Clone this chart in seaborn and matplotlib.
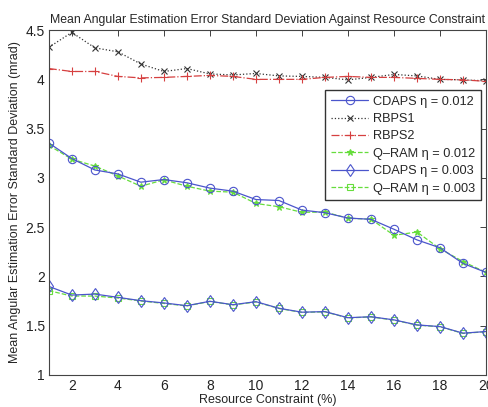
import matplotlib
matplotlib.use('Agg')
import matplotlib.pyplot as plt
import pandas as pd
import seaborn as sns

# resource constraint (%)
constraint = list(range(1, 21))

rbps1 = [4.325, 4.477, 4.32, 4.28, 4.156, 4.08, 4.11, 4.055, 4.045, 4.06,
         4.035, 4.03, 4.02, 3.995, 4.02, 4.05, 4.035, 4.0, 3.995, 3.985]
rbps2 = [4.11, 4.08, 4.08, 4.03, 4.015, 4.02, 4.03, 4.04, 4.03, 4.0,
         4.0, 4.0, 4.02, 4.03, 4.02, 4.02, 4.01, 4.0, 3.995, 3.98]
cdaps_012 = [3.354, 3.196, 3.08, 3.04, 2.956, 2.983, 2.95, 2.896, 2.865, 2.78,
             2.77, 2.673, 2.646, 2.592, 2.579, 2.478, 2.37, 2.29, 2.131, 2.04]
qram_012 = [3.33, 3.19, 3.12, 3.02, 2.915, 2.98, 2.915, 2.865, 2.855, 2.74,
            2.707, 2.65, 2.653, 2.59, 2.58, 2.417, 2.45, 2.28, 2.15, 2.04]
cdaps_003 = [1.898, 1.81, 1.82, 1.787, 1.753, 1.73, 1.702, 1.747, 1.712, 1.743,
             1.676, 1.636, 1.642, 1.58, 1.59, 1.558, 1.507, 1.49, 1.423, 1.44]
qram_003 = [1.855, 1.80, 1.80, 1.78, 1.75, 1.725, 1.70, 1.745, 1.71, 1.74,
            1.674, 1.634, 1.64, 1.578, 1.588, 1.556, 1.505, 1.488, 1.421, 1.438]

sns.set_style('white')
plt.rcParams['font.family'] = ['Liberation Sans', 'DejaVu Sans']

fig = plt.figure(figsize=(4.88, 4.07), dpi=100)
ax = fig.add_axes([0.100, 0.079, 0.896, 0.847])

blue = '#4b55cc'
green = '#66dd3c'
red = '#d64040'
black = '#333333'

series = [
    ('CDAPS η = 0.012', cdaps_012, dict(color=blue, linestyle='-', marker='o', markersize=6,
                                        markerfacecolor='none', markeredgecolor=blue)),
    ('RBPS1', rbps1, dict(color=black, linestyle=':', marker='x', markersize=4,
                          markeredgecolor=black)),
    ('RBPS2', rbps2, dict(color=red, linestyle='-.', marker='+', markersize=6,
                          markeredgecolor=red)),
    ('Q\u2013RAM η = 0.012', qram_012, dict(color=green, linestyle='--', marker='*', markersize=5,
                                            markerfacecolor=green, markeredgecolor=green)),
    ('CDAPS η = 0.003', cdaps_003, dict(color=blue, linestyle='-', marker='d', markersize=6,
                                        markerfacecolor='none', markeredgecolor=blue)),
    ('Q\u2013RAM η = 0.003', qram_003, dict(color=green, linestyle='--', marker='s', markersize=5,
                                            markerfacecolor='none', markeredgecolor=green)),
]

# green drawn under blue like the original
order = [3, 5, 1, 2, 0, 4]
for i in order:
    label, vals, kw = series[i]
    df = pd.DataFrame({'x': constraint, 'y': vals})
    sns.lineplot(data=df, x='x', y='y', ax=ax, label=label, linewidth=0.9,
                 markeredgewidth=0.8, **kw)

h, l = ax.get_legend_handles_labels()
lookup = dict(zip(l, h))
labels = [s[0] for s in series]
ax.legend([lookup[k] for k in labels], labels, loc='upper right',
          bbox_to_anchor=(0.986, 0.779), bbox_transform=fig.transFigure,
          fontsize=9.2, frameon=True, fancybox=False, edgecolor='#333333',
          framealpha=1, borderpad=0.45, labelspacing=0.42, handlelength=2.9,
          handletextpad=0.4, borderaxespad=0)

ax.set_xlim(1, 20)
ax.set_ylim(1, 4.5)
ax.set_xticks(range(2, 21, 2))
ax.set_yticks([1, 1.5, 2, 2.5, 3, 3.5, 4, 4.5])
ax.set_yticklabels(['1', '1.5', '2', '2.5', '3', '3.5', '4', '4.5'])
ax.tick_params(direction='in', top=True, right=True, length=4, width=0.6,
               labelsize=10, pad=3, colors='#222222')
for sp in ax.spines.values():
    sp.set_color('#444444')
    sp.set_linewidth(0.8)

ax.set_xlabel('Resource Constraint (%)', fontsize=9, labelpad=1)
ax.set_ylabel('Mean Angular Estimation Error Standard Deviation (mrad)', fontsize=9, labelpad=3)
ax.set_title('Mean Angular Estimation Error Standard Deviation Against Resource Constraint',
             fontsize=8.8, pad=5)

fig.savefig('out.png', dpi=100)
